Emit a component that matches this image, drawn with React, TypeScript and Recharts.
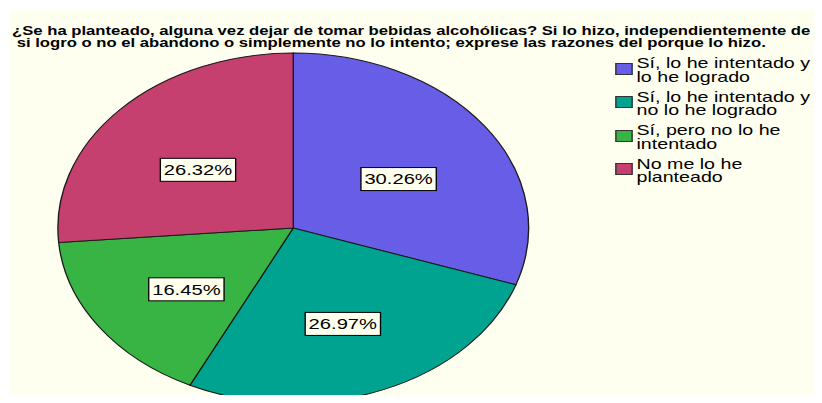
import React from 'react';
import { PieChart, Pie, Cell, Legend } from 'recharts';

const categories = [
  'Sí, lo he intentado y lo he logrado',
  'Sí, lo he intentado y no lo he logrado',
  'Sí, pero no lo he intentado',
  'No me lo he planteado',
];
const percents = [30.26, 26.97, 16.45, 26.32];
const sliceColors = ['#675de6', '#00a390', '#38b445', '#c6406f'];
const titleLines = [
  '¿Se ha planteado, alguna vez dejar de tomar bebidas alcohólicas? Si lo hizo, independientemente de',
  ' si logro o no el abandono o simplemente no lo intento; exprese las razones del porque lo hizo.',
];

// the original picture is stretched sideways, so the whole plot is drawn narrow and scaled
const SX = 1.345;
const FONT = 'Arial, "Liberation Sans", sans-serif';
const RAD = Math.PI / 180;

const data = categories.map((name, i) => ({ name, value: percents[i] }));

const renderLabel = (props: any) => {
  const { cx, cy, midAngle, outerRadius, value } = props;
  const r = outerRadius * 0.55;
  const x = cx + r * Math.cos(-midAngle * RAD);
  const y = cy + r * Math.sin(-midAngle * RAD) + 7;
  return (
    <g>
      <rect x={x - 28} y={y - 11.5} width={56} height={23} fill="#ffffee" stroke="#000" strokeWidth={1} />
      <text x={x} y={y} dy="0.36em" textAnchor="middle" fontSize={15} fontFamily={FONT} fill="#000">
        {`${Number(value).toFixed(2)}%`}
      </text>
    </g>
  );
};

// legend keeps the data order (the default payload is sorted by name)
const renderLegend = () => (
  <div style={{ fontFamily: FONT, fontSize: 14.6, lineHeight: '13.5px', color: '#000' }}>
    {categories.map((name, i) => (
      <div key={`leg-${i}`} style={{ display: 'flex', alignItems: 'flex-start', height: 33.5 }}>
        <div
          style={{
            width: 13,
            height: 12,
            marginTop: 5.6,
            boxSizing: 'border-box',
            border: '1px solid #333',
            background: sliceColors[i],
            flex: 'none',
          }}
        />
        <div style={{ marginLeft: 3, width: 136 }}>{name}</div>
      </div>
    ))}
  </div>
);

export default function App() {
  return (
    <div style={{ position: 'relative', width: 822, height: 403, margin: -8, background: '#fff', overflow: 'hidden' }}>
      <div
        style={{
          position: 'absolute',
          left: 10,
          top: 10,
          width: 604,
          height: 393,
          background: '#fffff0',
          transform: `scaleX(${SX})`,
          transformOrigin: '0 0',
        }}
      >
        <PieChart width={604} height={393} margin={{ top: 0, right: 0, bottom: 0, left: 0 }}>
          <Pie
            data={data}
            dataKey="value"
            nameKey="name"
            cx={210.6}
            cy={218}
            outerRadius={175}
            startAngle={90}
            endAngle={-270}
            stroke="#1a1a1a"
            strokeWidth={1}
            labelLine={false}
            label={renderLabel}
            isAnimationActive={false}
          >
            {data.map((entry, index) => (
              <Cell key={`cell-${index}`} fill={sliceColors[index]} />
            ))}
          </Pie>
          <Legend
            layout="vertical"
            align="right"
            verticalAlign="top"
            content={renderLegend}
            wrapperStyle={{ left: 449.8, top: 47.1, width: 150 }}
          />
        </PieChart>
        {/* title */}
        <div
          style={{
            position: 'absolute',
            left: 1.5,
            top: 16,
            fontFamily: FONT,
            fontWeight: 'bold',
            fontSize: 12.4,
            lineHeight: '11.5px',
            whiteSpace: 'pre',
            color: '#000',
          }}
        >
          {titleLines.map((t, i) => (
            <div key={i}>{t}</div>
          ))}
        </div>
      </div>
    </div>
  );
}
